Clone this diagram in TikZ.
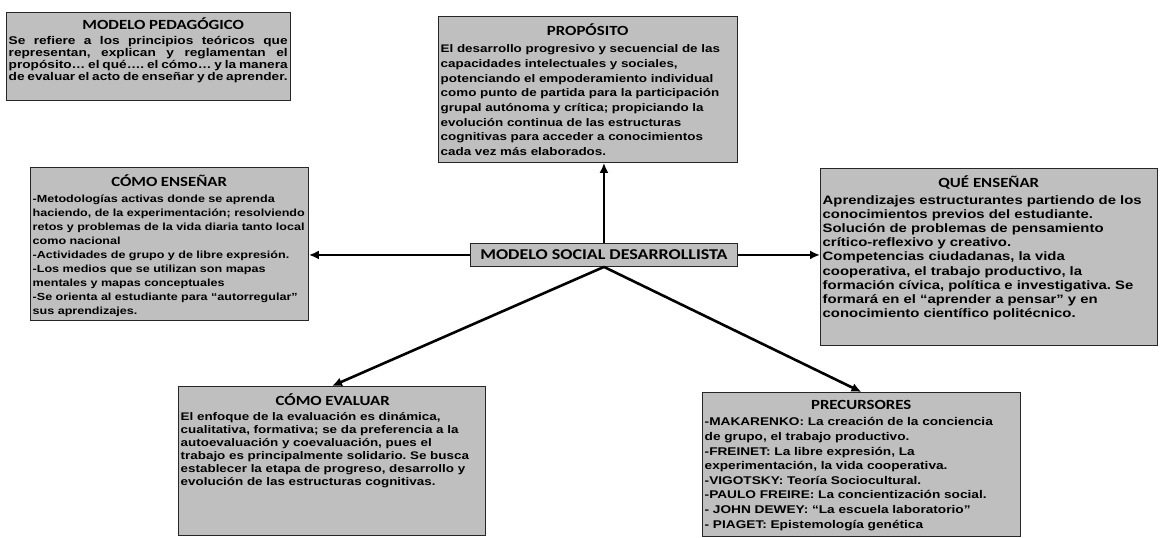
\documentclass[tikz,border=0pt]{standalone}
\usepackage{fontspec}
\setmainfont{Liberation Sans}
\newfontfamily\bodyfam[FakeStretch=1.22]{Liberation Sans}
\newfontfamily\titlefam[FakeStretch=1.2]{Carlito}
\usetikzlibrary{positioning,arrows.meta}

\tikzstyle{card} = [draw=black!85, fill=black!25, rectangle, line width=0.9pt,
    anchor=north west, inner sep=0pt]
\tikzstyle{cardtext} = [anchor=north west, inner xsep=2.5pt, inner ysep=8pt, align=left]
\tikzstyle{link} = [->, >={Latex[length=10pt,width=9pt]}, line width=2.6pt]

\newcommand{\cardtitle}[1]{\centerline{\titlefam\bfseries\fontsize{14}{14}\selectfont #1}\vspace{2pt}}
\newcommand{\bodysize}[2]{\bodyfam\bfseries\fontsize{#1}{#2}\selectfont\frenchspacing}

\begin{document}
\begin{tikzpicture}[x=1pt, y=-1pt]
    \useasboundingbox (0,0) rectangle (1160,538);
    % cuadros
    \node [card, minimum width=284pt, minimum height=88pt] (pedagogico) at (6,12) {};
    \node [card, minimum width=299pt, minimum height=146pt] (proposito) at (438,16) {};
    \node [card, minimum width=278pt, minimum height=153pt] (ensenar) at (30,167) {};
    \node [card, minimum width=337pt, minimum height=177pt] (que) at (820,168) {};
    \node [card, minimum width=267pt, minimum height=23pt] (central) at (470,243) {};
    \node [card, minimum width=307pt, minimum height=149pt] (evaluar) at (178,386) {};
    \node [card, minimum width=318pt, minimum height=144pt] (precursores) at (702,392) {};

    % textos
    \node [cardtext, inner ysep=6pt, align=justify, text width=279pt, font=\bodysize{11.2}{12.2}] at (pedagogico.north west) {%
        \cardtitle{\hspace{30pt}MODELO PEDAGÓGICO}
        Se refiere a los principios teóricos que\linebreak
        representan, explican y reglamentan el\linebreak
        propósito… el qué…. el cómo… y la manera\linebreak
        de evaluar el acto de enseñar y de aprender.};
    \node [cardtext, text width=294pt, font=\bodysize{11}{14.7}] at (proposito.north west) {%
        \cardtitle{PROPÓSITO}
        El desarrollo progresivo y secuencial de las\\
        capacidades intelectuales y sociales,\\
        potenciando el empoderamiento individual\\
        como punto de partida para la participación\\
        grupal autónoma y crítica; propiciando la\\
        evolución continua de las estructuras\\
        cognitivas para acceder a conocimientos\\
        cada vez más elaborados.};
    \node [cardtext, text width=273pt, font=\bodysize{10.3}{14}] at (ensenar.north west) {%
        \cardtitle{CÓMO ENSEÑAR}
        -Metodologías activas donde se aprenda\\
        haciendo, de la experimentación; resolviendo\\
        retos y problemas de la vida diaria tanto local\\
        como nacional\\
        -Actividades de grupo y de libre expresión.\\
        -Los medios que se utilizan son mapas\\
        mentales y mapas conceptuales\\
        -Se orienta al estudiante para “autorregular”\\
        sus aprendizajes.};
    \node [cardtext, text width=332pt, font=\bodysize{12.2}{14.2}] at (que.north west) {%
        \cardtitle{QUÉ ENSEÑAR}
        Aprendizajes estructurantes partiendo de los\\
        conocimientos previos del estudiante.\\
        Solución de problemas de pensamiento\\
        crítico-reflexivo y creativo.\\
        Competencias ciudadanas, la vida\\
        cooperativa, el trabajo productivo, la\\
        formación cívica, política e investigativa. Se\\
        formará en el “aprender a pensar” y en\\
        conocimiento científico politécnico.};
    \node [font=\titlefam\bfseries\fontsize{15}{15}\selectfont] at (central.center) {MODELO SOCIAL DESARROLLISTA};
    \node [cardtext, text width=304pt, font=\bodysize{11}{13}] at (evaluar.north west) {%
        \cardtitle{CÓMO EVALUAR}
        El enfoque de la evaluación es dinámica,\\
        cualitativa, formativa; se da preferencia a la\\
        autoevaluación y coevaluación, pues el\\
        trabajo es principalmente solidario. Se busca\\
        establecer la etapa de progreso, desarrollo y\\
        evolución de las estructuras cognitivas.};
    \node [cardtext, text width=313pt, font=\bodysize{11.2}{14.6}] at (precursores.north west) {%
        \cardtitle{PRECURSORES}
        -MAKARENKO: La creación de la conciencia\\
        de grupo, el trabajo productivo.\\
        -FREINET: La libre expresión, La\\
        experimentación, la vida cooperativa.\\
        -VIGOTSKY: Teoría Sociocultural.\\
        -PAULO FREIRE: La concientización social.\\
        - JOHN DEWEY: “La escuela laboratorio”\\
        - PIAGET: Epistemología genética};

    % flechas
    \draw [link] (central.north) -- (central.north |- proposito.south);
    \draw [link] (central.west) -- (central.west -| ensenar.east);
    \draw [link] (central.east) -- (central.east -| que.west);
    \draw [link] (central.south) -- (evaluar.north);
    \draw [link] (central.south) -- (precursores.north);
\end{tikzpicture}
\end{document}
